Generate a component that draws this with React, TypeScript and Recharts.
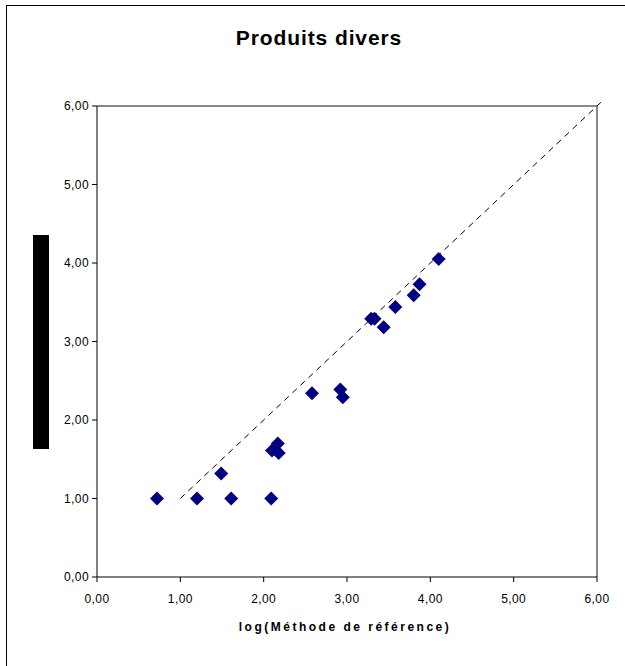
import React from 'react';
import { ScatterChart, Scatter, XAxis, YAxis, ReferenceLine } from 'recharts';

const xValues = [0.72, 1.20, 1.61, 2.09, 1.49, 2.10, 2.18, 2.17, 2.58, 2.92, 2.95, 3.29, 3.33, 3.44, 3.58, 3.80, 3.87, 4.10];
const yValues = [1.00, 1.00, 1.00, 1.00, 1.32, 1.61, 1.58, 1.70, 2.34, 2.39, 2.29, 3.29, 3.29, 3.18, 3.44, 3.59, 3.73, 4.05];
const axisTicks = [0, 1, 2, 3, 4, 5, 6];
const identityLine = [{ x: 1, y: 1 }, { x: 6.05, y: 6.05 }];
const title = 'Produits divers';
const xLabel = 'log(Méthode de référence)';

const points = xValues.map((x, i) => ({ x, y: yValues[i] }));
const fmt = (v: number) => v.toFixed(2).replace('.', ',');
const FONT = '"Liberation Sans", Arial, sans-serif';

const Diamond = (props: any) => {
  const { cx, cy } = props;
  const r = 7;
  return (
    <polygon
      points={`${cx},${cy - r} ${cx + r},${cy} ${cx},${cy + r} ${cx - r},${cy}`}
      fill="#000080"
    />
  );
};

export default function App() {
  return (
    <div style={{ position: 'absolute', left: 0, top: 0, width: 625, height: 666, overflow: 'hidden', background: '#fff', fontFamily: FONT }}>
      <div style={{ position: 'absolute', left: 6, top: 5, width: 640, height: 680, borderLeft: '1.5px solid #000', borderTop: '1.5px solid #000' }} />
      <div style={{ position: 'absolute', left: 0, top: 26, width: 638, textAlign: 'center', fontSize: 21, fontWeight: 'bold', letterSpacing: 0.9, color: '#000' }}>{title}</div>
      <div style={{ position: 'absolute', left: 33, top: 235, width: 16, height: 214, background: '#000' }} />
      <div style={{ position: 'absolute', left: 0, top: 620, width: 690, textAlign: 'center', fontSize: 12, fontWeight: 'bold', letterSpacing: 2.5, color: '#000' }}>{xLabel}</div>
      <div style={{ position: 'absolute', left: 0, top: 0 }}>
        <ScatterChart width={625} height={666} margin={{ top: 106, right: 28, bottom: 59, left: 0 }}>
          <XAxis
            type="number"
            dataKey="x"
            domain={[0, 6]}
            ticks={axisTicks}
            tickFormatter={fmt}
            allowDataOverflow
            height={30}
            stroke="#000"
            tickSize={5}
            tickMargin={12}
            tick={{ fill: '#000', fontSize: 12, fontFamily: FONT, letterSpacing: 0.4 }}
          />
          <YAxis
            type="number"
            dataKey="y"
            domain={[0, 6]}
            ticks={axisTicks}
            tickFormatter={fmt}
            allowDataOverflow
            width={97}
            stroke="#000"
            tickSize={5}
            tickMargin={3}
            tick={{ fill: '#000', fontSize: 12, fontFamily: FONT, letterSpacing: 0.4 }}
          />
          <ReferenceLine y={6} stroke="#888" strokeWidth={2} />
          <ReferenceLine x={6} stroke="#888" strokeWidth={2} />
          <ReferenceLine segment={identityLine} ifOverflow="visible" stroke="#000" strokeWidth={1} strokeDasharray="6 5" />
          <Scatter data={points} shape={Diamond} isAnimationActive={false} />
        </ScatterChart>
      </div>
    </div>
  );
}
